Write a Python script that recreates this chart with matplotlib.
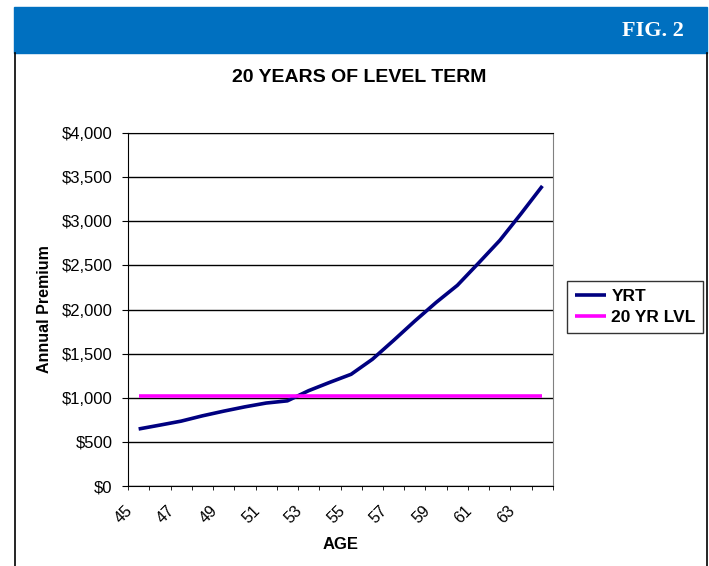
import numpy as np
import matplotlib
matplotlib.use("Agg")
import matplotlib.pyplot as plt
import matplotlib.transforms as mtransforms
from matplotlib.lines import Line2D
from matplotlib.patches import Rectangle
from matplotlib.ticker import FuncFormatter, MultipleLocator

plt.rcParams['font.family'] = ['Liberation Sans', 'DejaVu Sans']

# data
ages = list(range(45, 65))
yrt = [646, 690, 735, 795, 848, 897, 940, 965, 1080, 1175,
       1266, 1436, 1650, 1870, 2080, 2274, 2527, 2784, 3087, 3400]
level = [1025] * len(ages)
age_labels = [str(a) if (a - 45) % 2 == 0 else "" for a in ages]

fig = plt.figure(figsize=(7.09, 5.66), dpi=100)

# blue banner + frame
fig.patches.append(Rectangle((14 / 709, 1 - 53 / 566), 693 / 709, 46 / 566,
                             transform=fig.transFigure, color="#0070C0", zorder=0))
fig.text(684 / 709, 1 - 31 / 566, "FIG. 2", color="white", fontsize=16, fontweight="bold",
         family="Liberation Serif", ha="right", va="center")
fig.lines.append(Line2D([14.5 / 709, 14.5 / 709], [0, 1 - 53 / 566], transform=fig.transFigure,
                        color="black", lw=1.2))
fig.lines.append(Line2D([707 / 709, 707 / 709], [0, 1 - 53 / 566], transform=fig.transFigure,
                        color="black", lw=1.2))

fig.text(359 / 709, 1 - 77 / 566, "20 YEARS OF LEVEL TERM", fontsize=14, fontweight="bold",
         ha="center", va="center")

ax = fig.add_axes([128 / 709, 80 / 566, 425 / 709, 353 / 566])
x = np.arange(len(ages))
ax.plot(x, yrt, color="#000080", lw=2.6, label="YRT", solid_capstyle="butt", zorder=3)
ax.plot(x, level, color="#FF00FF", lw=2.6, label="20 YR LVL", solid_capstyle="butt", zorder=3)

ax.set_xlim(-0.5, len(ages) - 0.5)
ax.set_ylim(0, 4000)
ax.yaxis.set_major_locator(MultipleLocator(500))
ax.yaxis.set_major_formatter(FuncFormatter(lambda v, p: "${:,.0f}".format(v)))
ax.yaxis.grid(True, color="black", lw=1)
ax.set_axisbelow(True)

ax.set_xticks(x)
ax.set_xticklabels(age_labels, rotation=45, ha="right", rotation_mode="anchor")
ax.set_xticks(np.arange(-0.5, len(ages)), minor=True)
ax.tick_params(axis="x", which="major", length=0, pad=12, labelsize=11.5)
ax.tick_params(axis="x", which="minor", length=3, direction="out")
ax.tick_params(axis="y", length=4, direction="out", labelsize=12, pad=7)
shift = mtransforms.ScaledTranslation(-14 / 100, 0, fig.dpi_scale_trans)
for lab in ax.get_xticklabels():
    lab.set_transform(lab.get_transform() + shift)

for s in ["left", "bottom"]:
    ax.spines[s].set_color("black")
ax.spines["right"].set_color("#808080")
ax.spines["top"].set_color("black")

ax.set_ylabel("Annual Premium", fontsize=11.5, fontweight="bold", labelpad=7)
ax.set_xlabel("AGE", fontsize=12, fontweight="bold", labelpad=8)

leg = fig.legend(loc="upper left", bbox_to_anchor=(567 / 709, 1 - 281 / 566), borderaxespad=0,
                 frameon=True, fancybox=False, edgecolor="black", prop={"weight": "bold", "size": 12.5},
                 handlelength=1.8, borderpad=0.45, labelspacing=0.35, handletextpad=0.3)
leg.get_frame().set_linewidth(1)

fig.savefig("out.png", dpi=100)
